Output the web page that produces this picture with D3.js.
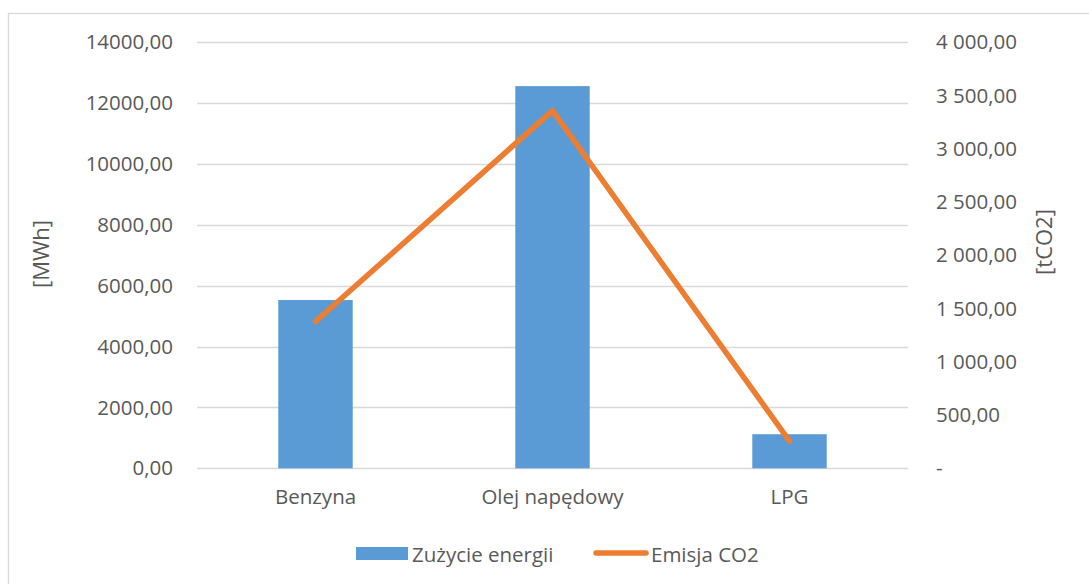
<!DOCTYPE html>
<html>
<head>
<meta charset="utf-8">
<script src="https://cdn.jsdelivr.net/npm/d3@7"></script>
<style>
  html, body { margin: 0; padding: 0; background: #fff; }
  svg { display: block; font-family: "Open Sans", "Segoe UI", sans-serif; }
</style>
</head>
<body>
<svg id="chart" width="1089" height="584"></svg>
<script>
// Fuel categories and yearly figures
const categories = ["Benzyna", "Olej napędowy", "LPG"];
const energyMWh = [5530, 12560, 1120];      // Zużycie energii [MWh]
const emissionT = [1378, 3358, 255];        // Emisja CO2 [tCO2]
const leftTicks = [0, 2000, 4000, 6000, 8000, 10000, 12000, 14000];
const rightTicks = [0, 500, 1000, 1500, 2000, 2500, 3000, 3500, 4000];
const seriesNames = ["Zużycie energii", "Emisja CO2"];

const W = 1089, H = 584;
const svg = d3.select("#chart");
const plot = { left: 197, right: 908, top: 42.3, bottom: 468.3 };
const textColor = "#595959";
const gridColor = "#D9D9D9";
const barColor = "#5B9BD5";
const lineColor = "#ED7D31";
const fontSize = "20.5px";

// chart frame
svg.append("rect")
  .attr("x", 8.5).attr("y", 13.5)
  .attr("width", W).attr("height", H)
  .attr("fill", "none").attr("stroke", gridColor).attr("stroke-width", 1.3);

const x = d3.scaleBand().domain(categories).range([plot.left, plot.right]).paddingInner(0.686).paddingOuter(0.343);
const xc = d3.scalePoint().domain(categories).range([plot.left, plot.right]).padding(0.5);
const yL = d3.scaleLinear().domain([0, 14000]).range([plot.bottom, plot.top]);
const yR = d3.scaleLinear().domain([0, 4000]).range([plot.bottom, plot.top]);

const fmtPL = v => d3.format(",.2f")(v).replace(/,/g, " ").replace(".", ",");

// gridlines
svg.append("g").selectAll("line").data(leftTicks).join("line")
  .attr("x1", plot.left).attr("x2", plot.right)
  .attr("y1", d => Math.round(yL(d)) + 0.5).attr("y2", d => Math.round(yL(d)) + 0.5)
  .attr("stroke", gridColor).attr("stroke-width", 1.3);

// left axis
const leftAxis = svg.append("g").attr("transform", `translate(${plot.left - 24},0)`)
  .call(d3.axisLeft(yL).tickValues(leftTicks).tickSize(0).tickPadding(0)
    .tickFormat(d => d3.format(".2f")(d).replace(".", ",")));
leftAxis.select(".domain").remove();
leftAxis.selectAll("text").attr("fill", textColor).style("font-size", fontSize)
  .attr("font-family", "Open Sans");

// right axis
const rightAxis = svg.append("g").attr("transform", `translate(${plot.right + 28},0)`)
  .call(d3.axisRight(yR).tickValues(rightTicks).tickSize(0).tickPadding(0)
    .tickFormat(d => d === 0 ? "-" : fmtPL(d)));
rightAxis.select(".domain").remove();
rightAxis.selectAll("text").attr("fill", textColor).style("font-size", fontSize)
  .attr("font-family", "Open Sans");

// bars
svg.append("g").selectAll("rect").data(categories).join("rect")
  .attr("x", d => x(d)).attr("width", x.bandwidth())
  .attr("y", (d, i) => yL(energyMWh[i]))
  .attr("height", (d, i) => yL(0) - yL(energyMWh[i]))
  .attr("fill", barColor);

// emission line
const line = d3.line().x(d => xc(d.c)).y(d => yR(d.v));
svg.append("path")
  .datum(categories.map((c, i) => ({ c, v: emissionT[i] })))
  .attr("d", line)
  .attr("fill", "none").attr("stroke", lineColor)
  .attr("stroke-width", 5.5).attr("stroke-linecap", "round").attr("stroke-linejoin", "round");

// category labels
const xAxis = svg.append("g").attr("transform", `translate(0,${plot.bottom})`)
  .call(d3.axisBottom(x).tickSize(0).tickPadding(21));
xAxis.select(".domain").remove();
xAxis.selectAll("text").attr("fill", textColor).style("font-size", fontSize)
  .attr("font-family", "Open Sans");

// axis titles
svg.append("text")
  .attr("transform", "translate(40,254) rotate(-90)")
  .attr("text-anchor", "middle").attr("dominant-baseline", "central")
  .attr("fill", textColor).style("font-size", "22px").text("[MWh]");
svg.append("text")
  .attr("transform", "translate(1043,242) rotate(-90)")
  .attr("text-anchor", "middle").attr("dominant-baseline", "central")
  .attr("fill", textColor).style("font-size", "22px").text("[tCO2]");

// legend
const lg = svg.append("g");
lg.append("rect").attr("x", 356).attr("y", 547).attr("width", 52).attr("height", 13).attr("fill", barColor);
lg.append("text").attr("x", 412).attr("y", 553.5).attr("dominant-baseline", "central")
  .attr("fill", textColor).style("font-size", fontSize).text(seriesNames[0]);
lg.append("line").attr("x1", 596).attr("x2", 646).attr("y1", 553).attr("y2", 553)
  .attr("stroke", lineColor).attr("stroke-width", 5.5).attr("stroke-linecap", "round");
lg.append("text").attr("x", 651).attr("y", 553.5).attr("dominant-baseline", "central")
  .attr("fill", textColor).style("font-size", fontSize).text(seriesNames[1]);
</script>
</body>
</html>
